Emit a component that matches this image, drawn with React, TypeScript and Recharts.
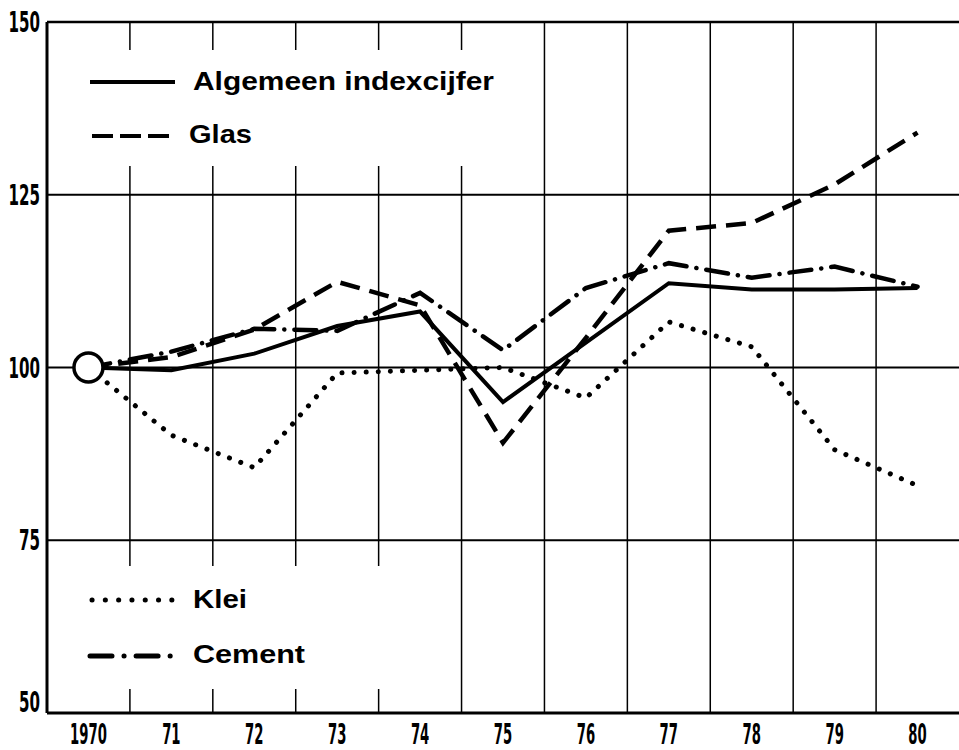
import { LineChart, Line, XAxis, YAxis, ReferenceLine } from 'recharts';

const years = [1970, 1971, 1972, 1973, 1974, 1975, 1976, 1977, 1978, 1979, 1980];
const xTickLabels = ['1970', '71', '72', '73', '74', '75', '76', '77', '78', '79', '80'];
const yTicks = [50, 75, 100, 125, 150];

const algemeen = [100, 99.6, 102, 106, 108.1, 95, 103.6, 112.2, 111.3, 111.3, 111.5];
const glas = [100, 101.5, 105.5, 112.4, 109, 89.1, 104.3, 119.8, 120.9, 126.5, 134];
const klei = [100, 90.2, 85.5, 99.2, 99.6, 100, 95.6, 106.6, 103, 88.1, 82.9];
const cement = [100, 102.3, 105.6, 105.3, 110.8, 102.5, 111.5, 115.1, 113, 114.6, 111.7];

const gridX = [1970.5, 1971.5, 1972.5, 1973.5, 1974.5, 1975.5, 1976.5, 1977.5, 1978.5, 1979.5];
const gridY = [75, 100, 125];

const data = years.map((year, i) => ({
    year,
    algemeen: algemeen[i],
    glas: glas[i],
    klei: klei[i],
    cement: cement[i],
}));

const digitFont = "'Liberation Sans Narrow', 'DejaVu Sans Condensed', sans-serif";
const labelFont = "'Liberation Sans', Arial, sans-serif";

const XTick = (props: any) => {
    const { x, y, payload } = props;
    const label = xTickLabels[years.indexOf(payload.value)] ?? String(payload.value);
    return (
        <text x={x} y={y + 31} textAnchor="middle" fontFamily={digitFont} fontWeight="bold" fontSize={28}
            textLength={label.length * 9.2} lengthAdjust="spacingAndGlyphs" fill="#000">
            {label}
        </text>
    );
};

const YTick = (props: any) => {
    const { y, payload } = props;
    const label = String(payload.value);
    const dy = payload.value === 50 ? -1 : 10;
    return (
        <text x={40} y={y + dy} textAnchor="end" fontFamily={digitFont} fontWeight="bold" fontSize={29}
            textLength={label.length * 10.5} lengthAdjust="spacingAndGlyphs" fill="#000">
            {label}
        </text>
    );
};

const StartDot = (props: any) => {
    const { cx, cy, index } = props;
    if (index !== 0) return <g key={index} />;
    return <circle key={index} cx={cx} cy={cy} r={14.5} fill="#fff" stroke="#000" strokeWidth={3.5} />;
};

function LegendOverlay() {
    return (
        <svg width={959} height={750} style={{ position: 'absolute', left: 0, top: 0, pointerEvents: 'none' }}>
            <rect x={49} y={50} width={452} height={116} fill="#fff" />
            <rect x={49} y={566} width={372} height={123} fill="#fff" />

            <line x1={90} y1={82} x2={175} y2={82} stroke="#000" strokeWidth={4} />
            <text x={193} y={90} fontFamily={labelFont} fontWeight="bold" fontSize={26} textLength={301}
                lengthAdjust="spacingAndGlyphs" fill="#000">Algemeen indexcijfer</text>

            <line x1={92} y1={136} x2={175} y2={136} stroke="#000" strokeWidth={4} strokeDasharray="21 7" />
            <text x={189} y={143} fontFamily={labelFont} fontWeight="bold" fontSize={26} textLength={63}
                lengthAdjust="spacingAndGlyphs" fill="#000">Glas</text>

            <line x1={92} y1={600} x2={172} y2={600} stroke="#000" strokeWidth={5} strokeLinecap="round"
                strokeDasharray="0.1 13.2" />
            <text x={193} y={608} fontFamily={labelFont} fontWeight="bold" fontSize={26} textLength={54}
                lengthAdjust="spacingAndGlyphs" fill="#000">Klei</text>

            <line x1={90} y1={656} x2={172} y2={656} stroke="#000" strokeWidth={5} strokeLinecap="round"
                strokeDasharray="22 12 0.1 12" />
            <text x={193} y={663} fontFamily={labelFont} fontWeight="bold" fontSize={26} textLength={112}
                lengthAdjust="spacingAndGlyphs" fill="#000">Cement</text>
        </svg>
    );
}

export default function App() {
    return (
        <div style={{ position: 'absolute', left: 0, top: 0, width: 959, height: 750, background: '#fff' }}>
            <LineChart width={959} height={750} data={data} margin={{ top: 22, right: 0, bottom: 0, left: 0 }}>
                {gridX.map((gx) => (
                    <ReferenceLine key={gx} x={gx} stroke="#000" strokeWidth={1.5} />
                ))}
                {gridY.map((gy) => (
                    <ReferenceLine key={gy} y={gy} stroke="#000" strokeWidth={1.8} />
                ))}
                <ReferenceLine y={150} stroke="#000" strokeWidth={2.5} />
                <XAxis dataKey="year" type="number" domain={[1969.5, 1980.5]} ticks={years} height={37}
                    tickLine={false} tickSize={0} tickMargin={0} axisLine={{ stroke: '#000', strokeWidth: 3 }}
                    tick={<XTick />} interval={0} allowDataOverflow />
                <YAxis type="number" domain={[50, 150]} ticks={yTicks} width={47} tickLine={false} tickSize={0}
                    tickMargin={0} axisLine={{ stroke: '#000', strokeWidth: 3 }} tick={<YTick />} interval={0} />
                <Line type="linear" dataKey="klei" stroke="#000" strokeWidth={5} strokeLinecap="round"
                    strokeDasharray="0.1 12" dot={false} isAnimationActive={false} />
                <Line type="linear" dataKey="cement" stroke="#000" strokeWidth={4.5} strokeLinecap="round"
                    strokeDasharray="22 10 0.1 10" dot={false} isAnimationActive={false} />
                <Line type="linear" dataKey="glas" stroke="#000" strokeWidth={4.5} strokeDasharray="20 10"
                    dot={false} isAnimationActive={false} />
                <Line type="linear" dataKey="algemeen" stroke="#000" strokeWidth={4} dot={<StartDot />}
                    isAnimationActive={false} />
            </LineChart>
            <LegendOverlay />
        </div>
    );
}
